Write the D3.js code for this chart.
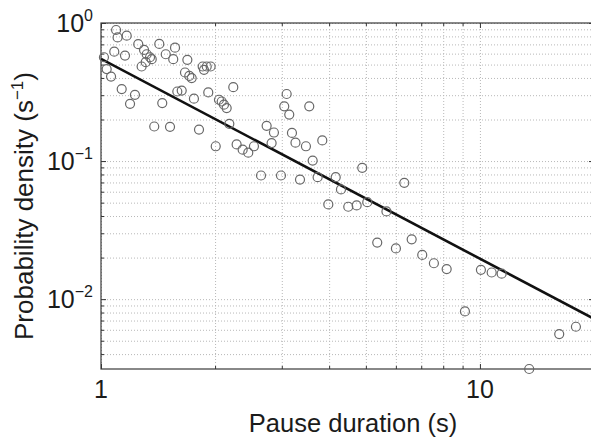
<!DOCTYPE html>
<html>
<head>
<meta charset="utf-8">
<script src="https://cdn.jsdelivr.net/npm/d3@7"></script>
<style>
  body { margin: 0; background: #fff; }
  text { font-family: "Liberation Sans", Arial, Helvetica, sans-serif; fill: #1b1b1b; }
  .grid line { stroke: #b8b8b8; stroke-dasharray: 1,2; }
  .grid path { display: none; }
  .tk line { stroke: #333; }
  .tk path { display: none; }
</style>
</head>
<body>
<script>
// pause duration (s) and probability density (1/s)
var pauseDur = [1.096, 1.106, 1.169, 1.018, 1.084, 1.157, 1.254, 1.299, 1.320, 1.347,
                1.361, 1.312, 1.280, 1.425, 1.482, 1.568, 1.551, 1.690, 1.666, 1.710,
                1.735, 1.870, 1.855, 1.901, 1.947, 1.035, 1.063, 1.134, 1.229, 1.193,
                1.451, 1.590, 1.633, 1.759, 1.919, 2.234, 2.048, 2.082, 2.111, 2.146,
                1.382, 1.521, 1.814, 2.181, 2.008, 2.280, 2.365, 2.447, 2.533, 2.736,
                2.860, 2.820, 3.090, 3.045, 3.139, 3.191, 3.260, 2.644, 2.985, 3.351,
                3.545, 3.474, 3.837, 3.619, 3.730, 4.163, 4.298, 4.891, 6.315, 3.980,
                4.493, 4.728, 5.043, 5.666, 5.358, 6.002, 6.605, 7.043, 7.560, 8.170,
                9.129, 10.06, 10.74, 11.41, 13.49, 16.19, 17.92];
var probDens = [0.890, 0.786, 0.810, 0.565, 0.620, 0.581, 0.702, 0.638, 0.594, 0.565,
                0.547, 0.520, 0.484, 0.705, 0.594, 0.663, 0.547, 0.541, 0.438, 0.414,
                0.399, 0.458, 0.484, 0.484, 0.484, 0.463, 0.409, 0.332, 0.302, 0.260,
                0.263, 0.319, 0.324, 0.283, 0.314, 0.343, 0.278, 0.270, 0.256, 0.242,
                0.178, 0.177, 0.169, 0.186, 0.128, 0.132, 0.121, 0.115, 0.128, 0.180,
                0.161, 0.135, 0.306, 0.249, 0.217, 0.160, 0.136, 0.0786, 0.0786, 0.0735,
                0.249, 0.128, 0.141, 0.1008, 0.0764, 0.0764, 0.0623, 0.0893, 0.0696, 0.0485,
                0.0467, 0.0477, 0.0504, 0.0432, 0.0257, 0.0233, 0.0271, 0.0209, 0.0182, 0.0165,
                0.00815, 0.0163, 0.0156, 0.0153, 0.00312, 0.00559, 0.00631];

// fitted power law, end points
var fitDur = [1, 20];
var fitDens = [0.55, 0.0072];

// ticks
var xMajor = [1, 10];
var xLabels = ["1", "10"];
var xMinor = [2, 3, 4, 5, 6, 7, 8, 9, 20];
var yMajor = [1, 0.1, 0.01];
var yExp = ["0", "\u22121", "\u22122"];
var yMinor = [0.004, 0.005, 0.006, 0.007, 0.008, 0.009,
              0.02, 0.03, 0.04, 0.05, 0.06, 0.07, 0.08, 0.09,
              0.2, 0.3, 0.4, 0.5, 0.6, 0.7, 0.8, 0.9];

//set up svg
var margin = {top: 23, right: -3, bottom: 70, left: 101};
var width = 493;
var height = 346;

var svg = d3.select("body").append("svg")
    .attr("width", 591)
    .attr("height", 439)
  .append("g")
    .attr("transform", "translate(" + margin.left + "," + margin.top + ")");

var x = d3.scaleLog().domain([1, 20]).range([0, width]);
var y = d3.scaleLog().domain([0.00312, 1]).range([height, 0]);

//grid
svg.append("g")
  .attr("class", "grid")
  .call(d3.axisLeft(y).tickValues(yMajor.concat(yMinor)).tickSize(-width).tickFormat(""));
svg.append("g")
  .attr("class", "grid")
  .attr("transform", "translate(0," + height + ")")
  .call(d3.axisBottom(x).tickValues(xMajor.concat(xMinor)).tickSize(-height).tickFormat(""));

//inward ticks on all four sides
function ticks(axis, vals, len, tr) {
  svg.append("g")
    .attr("class", "tk")
    .attr("transform", tr)
    .call(axis.tickValues(vals).tickSize(len).tickFormat(""));
}
ticks(d3.axisLeft(y), yMajor, -5, "translate(0,0)");
ticks(d3.axisLeft(y), yMinor, -3, "translate(0,0)");
ticks(d3.axisRight(y), yMajor, -5, "translate(" + width + ",0)");
ticks(d3.axisRight(y), yMinor, -3, "translate(" + width + ",0)");
ticks(d3.axisBottom(x), xMajor, -5, "translate(0," + height + ")");
ticks(d3.axisBottom(x), xMinor, -3, "translate(0," + height + ")");
ticks(d3.axisTop(x), xMajor, -5, "translate(0,0)");
ticks(d3.axisTop(x), xMinor, -3, "translate(0,0)");

//frame
svg.append("rect")
  .attr("width", width)
  .attr("height", height)
  .attr("fill", "none")
  .attr("stroke", "#3a3a3a")
  .attr("stroke-width", 1.2);

//fit line, clipped to the axes
svg.append("clipPath").attr("id", "clip")
  .append("rect").attr("width", width).attr("height", height);

svg.append("path")
  .datum(d3.zip(fitDur, fitDens))
  .attr("clip-path", "url(#clip)")
  .attr("fill", "none")
  .attr("stroke", "#111")
  .attr("stroke-width", 2.6)
  .attr("d", d3.line().x(function(d) { return x(d[0]); }).y(function(d) { return y(d[1]); }));

//points
svg.selectAll(".pt")
  .data(d3.zip(pauseDur, probDens))
  .enter()
  .append("circle")
  .attr("class", "pt")
  .attr("cx", function(d) { return x(d[0]); })
  .attr("cy", function(d) { return y(d[1]); })
  .attr("r", 4.5)
  .attr("fill", "none")
  .attr("stroke", "#686868")
  .attr("stroke-width", 1.2);

//tick labels
svg.selectAll(".xl")
  .data(xMajor)
  .enter()
  .append("text")
  .attr("class", "xl")
  .attr("x", function(d) { return x(d); })
  .attr("y", height + 29)
  .attr("text-anchor", "middle")
  .style("font-size", "25px")
  .text(function(d, i) { return xLabels[i]; });

var yl = svg.selectAll(".yl")
  .data(yMajor)
  .enter()
  .append("text")
  .attr("class", "yl")
  .attr("x", -8)
  .attr("y", function(d) { return y(d) + 9; })
  .attr("text-anchor", "end")
  .style("font-size", "25px");
yl.append("tspan").text("10");
yl.append("tspan")
  .attr("dy", -11)
  .style("font-size", "16px")
  .text(function(d, i) { return yExp[i]; });

//axis titles
svg.append("text")
  .attr("x", 252)
  .attr("y", height + 63)
  .attr("text-anchor", "middle")
  .style("font-size", "25.5px")
  .text("Pause duration (s)");

var yt = svg.append("text")
  .attr("transform", "translate(-68," + 183 + ") rotate(-90)")
  .attr("text-anchor", "middle")
  .style("font-size", "26px");
yt.append("tspan").text("Probability density (s");
yt.append("tspan").attr("dy", -10).style("font-size", "17px").text("\u22121");
yt.append("tspan").attr("dy", 10).text(")");
</script>
</body>
</html>
